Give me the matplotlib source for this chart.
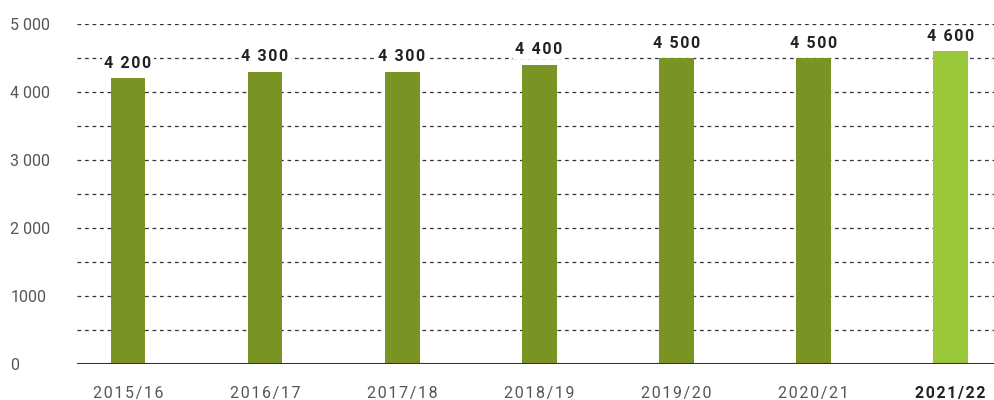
import matplotlib.pyplot as plt

plt.rcParams['font.family'] = ['Roboto', 'DejaVu Sans']

seasons = ['2015/16', '2016/17', '2017/18', '2018/19', '2019/20', '2020/21', '2021/22']
values = [4200, 4300, 4300, 4400, 4500, 4500, 4600]
labels = ['4 200', '4 300', '4 300', '4 400', '4 500', '4 500', '4 600']
ytick_vals = [0, 1000, 2000, 3000, 4000, 5000]
ytick_labels = ['0', '1000', '2 000', '3 000', '4 000', '5 000']

colors = ['#7a9423'] * 6 + ['#9bc73b']


def spaced(s):
    # fake letter spacing with hair spaces
    return '\u200a'.join(s)


fig = plt.figure(figsize=(9.94, 4), dpi=100)
ax = fig.add_axes([77 / 994, 36 / 400, 1 - 77 / 994, 340 / 400])

x = range(len(seasons))
ax.bar(x, values, width=0.255, color=colors, zorder=2)

for yv in range(500, 5001, 500):
    ax.axhline(yv, color='#333333', lw=0.9, ls=(0, (3, 3)), zorder=1)
ax.axhline(0, color='#333333', lw=1.5, zorder=3)

for i, (v, t) in enumerate(zip(values, labels)):
    ax.text(i, v + 110, spaced(t), ha='center', va='bottom', fontsize=11.5, fontweight='bold',
            color='#222222', zorder=4,
            bbox=dict(facecolor='white', edgecolor='none', pad=1.5))

ax.set_xlim(-0.372, 6.32)
ax.set_ylim(0, 5000)
ax.set_yticks(ytick_vals)
ax.set_yticklabels(ytick_labels)
ax.set_xticks(list(x))
ax.set_xticklabels([spaced(s) for s in seasons])
ax.tick_params(axis='both', length=0, labelsize=11.5, colors='#555555')
ax.get_xticklabels()[-1].set_fontweight('bold')
ax.get_xticklabels()[-1].set_color('#222222')
ax.tick_params(axis='y', pad=48)
for lab in ax.get_yticklabels():
    lab.set_horizontalalignment('left')
ax.tick_params(axis='x', pad=16)
for s in ax.spines.values():
    s.set_visible(False)

fig.savefig('out.png', dpi=100)
